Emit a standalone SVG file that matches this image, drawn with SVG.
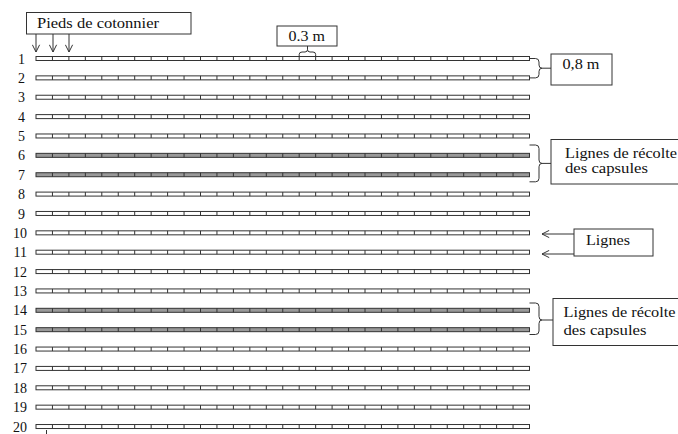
<svg xmlns="http://www.w3.org/2000/svg" xmlns:xlink="http://www.w3.org/1999/xlink" width="678" height="434" viewBox="0 0 678 434">
<style>
text{font-family:"Liberation Serif","Times New Roman",serif;fill:#111;}
.num{font-size:14px;text-anchor:end;}
.lbl{font-size:14px;}
.box{fill:#fff;stroke:#333;stroke-width:1;}
.ln{fill:none;stroke:#333;stroke-width:1;}
.barw{fill:#fff;stroke:#333;stroke-width:1;}
.barg{fill:#999;stroke:#333;stroke-width:1;}
</style>
<defs>
<path id="ticks" class="ln" d="M52.45,-2v4M68.9,-2v4M85.35,-2v4M101.8,-2v4M118.25,-2v4M134.7,-2v4M151.15,-2v4M167.6,-2v4M184.05,-2v4M200.5,-2v4M216.95,-2v4M233.4,-2v4M249.85,-2v4M266.3,-2v4M282.75,-2v4M299.2,-2v4M315.65,-2v4M332.1,-2v4M348.55,-2v4M365,-2v4M381.45,-2v4M397.9,-2v4M414.35,-2v4M430.8,-2v4M447.25,-2v4M463.7,-2v4M480.15,-2v4M496.6,-2v4M513.05,-2v4"/>
<g id="barW"><rect class="barw" x="36" y="-2" width="493.5" height="4"/><use xlink:href="#ticks"/></g>
<g id="barG"><rect class="barg" x="36" y="-2" width="493.5" height="4"/><use xlink:href="#ticks"/></g>
<marker id="arr" viewBox="0 0 10 10" refX="9" refY="5" markerWidth="9" markerHeight="9" orient="auto" markerUnits="userSpaceOnUse">
<path d="M1,1 L9,5 L1,9" fill="none" stroke="#333" stroke-width="1.1"/>
</marker>
</defs>

<g id="rows">
<g id="row1"><use xlink:href="#barW" y="58.5"/><text class="num" x="25" y="63.5">1</text></g>
<g id="row2"><use xlink:href="#barW" y="77.87"/><text class="num" x="25" y="82.9">2</text></g>
<g id="row3"><use xlink:href="#barW" y="97.24"/><text class="num" x="25" y="102.2">3</text></g>
<g id="row4"><use xlink:href="#barW" y="116.61"/><text class="num" x="25" y="121.6">4</text></g>
<g id="row5"><use xlink:href="#barW" y="135.98"/><text class="num" x="25" y="141">5</text></g>
<g id="row6"><use xlink:href="#barG" y="155.35"/><text class="num" x="25" y="160.3">6</text></g>
<g id="row7"><use xlink:href="#barG" y="174.72"/><text class="num" x="25" y="179.7">7</text></g>
<g id="row8"><use xlink:href="#barW" y="194.09"/><text class="num" x="25" y="199.1">8</text></g>
<g id="row9"><use xlink:href="#barW" y="213.46"/><text class="num" x="25" y="218.5">9</text></g>
<g id="row10"><use xlink:href="#barW" y="232.83"/><text class="num" x="27" y="237.8">10</text></g>
<g id="row11"><use xlink:href="#barW" y="252.2"/><text class="num" x="27" y="257.2">11</text></g>
<g id="row12"><use xlink:href="#barW" y="271.57"/><text class="num" x="27" y="276.5">12</text></g>
<g id="row13"><use xlink:href="#barW" y="290.94"/><text class="num" x="27" y="295.9">13</text></g>
<g id="row14"><use xlink:href="#barG" y="310.31"/><text class="num" x="27" y="315.3">14</text></g>
<g id="row15"><use xlink:href="#barG" y="329.68"/><text class="num" x="27" y="334.7">15</text></g>
<g id="row16"><use xlink:href="#barW" y="349.05"/><text class="num" x="27" y="354">16</text></g>
<g id="row17"><use xlink:href="#barW" y="368.42"/><text class="num" x="27" y="373.4">17</text></g>
<g id="row18"><use xlink:href="#barW" y="387.79"/><text class="num" x="27" y="392.8">18</text></g>
<g id="row19"><use xlink:href="#barW" y="407.16"/><text class="num" x="27" y="412.2">19</text></g>
<g id="row20"><use xlink:href="#barW" y="426.53"/><text class="num" x="27" y="431.5">20</text></g>
<path class="ln" d="M46.5,430V434"/>
</g>

<g id="connectors">
<path class="ln" d="M36,34V52" marker-end="url(#arr)"/>
<path class="ln" d="M53,34V52" marker-end="url(#arr)"/>
<path class="ln" d="M69,34V52" marker-end="url(#arr)"/>
<path class="ln" d="M299.2,56.5V54.5Q299.2,52 302,52H305Q307.5,52 307.5,49.5V46M315.65,56.5V54.5Q315.65,52 313,52H310Q307.5,52 307.5,49.5"/>
<path class="ln" d="M529.5,58.5H535.5Q539,58.5 539,62V65Q539,68.2 542,68.2Q539,68.2 539,71.4V74.4Q539,77.9 535.5,77.9H529.5M542,68.2H551"/>
<path class="ln" d="M529.5,145H535.5Q539,145 539,148.5V160Q539,163.4 542,163.4Q539,163.4 539,166.8V178.3Q539,181.8 535.5,181.8H529.5M542,163.4H551"/>
<path class="ln" d="M529.5,303H535.5Q539,303 539,306.5V316.5Q539,320 542,320Q539,320 539,323.5V331Q539,334.5 535.5,334.5H529.5M542,320H553"/>
<path class="ln" d="M574,234H542" marker-end="url(#arr)"/>
<path class="ln" d="M574,254H542" marker-end="url(#arr)"/>
</g>

<g id="pieds">
<rect class="box" x="26.5" y="12.5" width="164.5" height="21.5"/>
<text class="lbl" x="37" y="28" textLength="122" lengthAdjust="spacingAndGlyphs">Pieds de cotonnier</text>
</g>
<g id="ecart03">
<rect class="box" x="277" y="26" width="60" height="20"/>
<text class="lbl" x="288.5" y="40.5" textLength="36.5" lengthAdjust="spacingAndGlyphs">0.3 m</text>
</g>
<g id="ecart08">
<rect class="box" x="551" y="54" width="61" height="31"/>
<text class="lbl" x="562.5" y="68.5" textLength="37" lengthAdjust="spacingAndGlyphs">0,8 m</text>
</g>
<g id="recolte1">
<rect class="box" x="551" y="139.5" width="140" height="44.5"/>
<text class="lbl" x="565" y="157.5" textLength="112" lengthAdjust="spacingAndGlyphs">Lignes de récolte</text>
<text class="lbl" x="565" y="173.3" textLength="83" lengthAdjust="spacingAndGlyphs">des capsules</text>
</g>
<g id="lignes">
<rect class="box" x="574" y="229" width="79" height="27"/>
<text class="lbl" x="586" y="245" textLength="44" lengthAdjust="spacingAndGlyphs">Lignes</text>
</g>
<g id="recolte2">
<rect class="box" x="553" y="298.5" width="140" height="47"/>
<text class="lbl" x="563.5" y="316.7" textLength="112" lengthAdjust="spacingAndGlyphs">Lignes de récolte</text>
<text class="lbl" x="563.5" y="335" textLength="83" lengthAdjust="spacingAndGlyphs">des capsules</text>
</g>
</svg>
